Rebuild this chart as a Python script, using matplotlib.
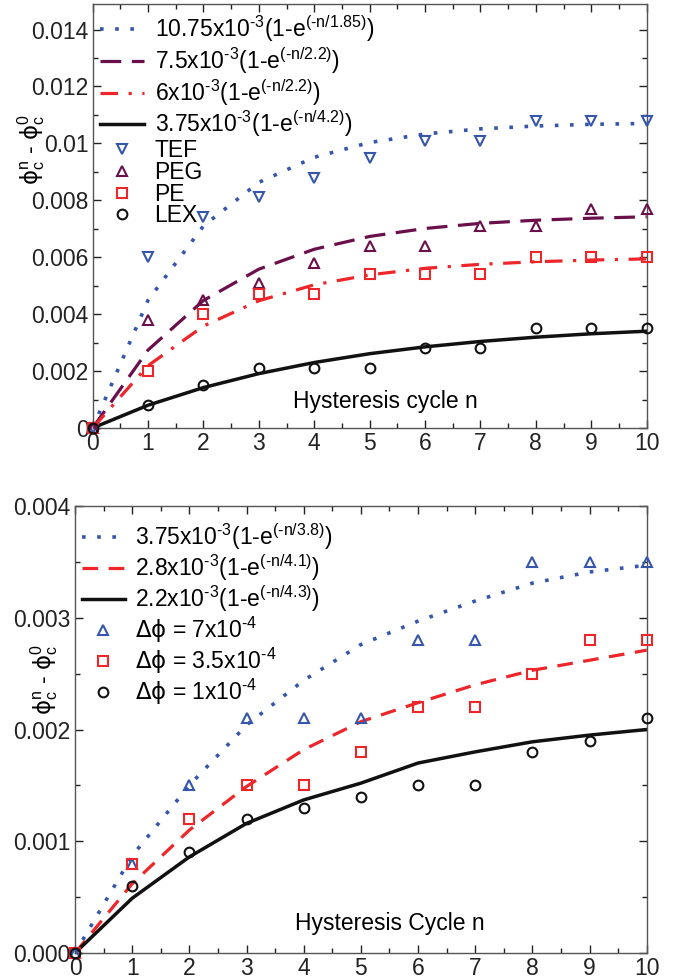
import numpy as np
import matplotlib
matplotlib.use('Agg')
import matplotlib.pyplot as plt
from matplotlib.ticker import MultipleLocator, FixedLocator, FixedFormatter

plt.rcParams['font.family'] = ['Liberation Sans', 'DejaVu Sans']
plt.rcParams['mathtext.fontset'] = 'custom'
plt.rcParams['mathtext.rm'] = 'Liberation Sans'
plt.rcParams['mathtext.it'] = 'Liberation Sans:italic'
plt.rcParams['mathtext.bf'] = 'Liberation Sans:bold'
plt.rcParams['mathtext.sf'] = 'DejaVu Sans'

# hysteresis cycles
cycles = np.arange(0, 11)

# top panel: measured points
tef = [0, 0.0060, 0.0074, 0.0081, 0.0088, 0.0095, 0.0101, 0.0101, 0.0108, 0.0108, 0.0108]
peg = [0, 0.0038, 0.0045, 0.0051, 0.0058, 0.0064, 0.0064, 0.0071, 0.0071, 0.0077, 0.0077]
pe = [0, 0.0020, 0.0040, 0.0047, 0.0047, 0.0054, 0.0054, 0.0054, 0.0060, 0.0060, 0.0060]
lex = [0, 0.0008, 0.0015, 0.0021, 0.0021, 0.0021, 0.0028, 0.0028, 0.0035, 0.0035, 0.0035]

# top panel: fitted curves (x1e-3)
tef_fit = [0, 4.49, 7.10, 8.63, 9.51, 10.03, 10.33, 10.51, 10.61, 10.67, 10.70]
peg_fit = [0, 2.74, 4.48, 5.58, 6.28, 6.73, 7.01, 7.19, 7.30, 7.37, 7.42]
pe_fit = [0, 2.19, 3.58, 4.47, 5.03, 5.38, 5.61, 5.75, 5.84, 5.90, 5.94]
lex_fit = [0, 0.80, 1.42, 1.91, 2.30, 2.61, 2.85, 3.04, 3.19, 3.31, 3.40]

# bottom panel: measured points
dphi7 = [0, 0.0008, 0.0015, 0.0021, 0.0021, 0.0021, 0.0028, 0.0028, 0.0035, 0.0035, 0.0035]
dphi35 = [0, 0.0008, 0.0012, 0.0015, 0.0015, 0.0018, 0.0022, 0.0022, 0.0025, 0.0028, 0.0028]
dphi1 = [0, 0.0006, 0.0009, 0.0012, 0.0013, 0.0014, 0.0015, 0.0015, 0.0018, 0.0019, 0.0021]

# bottom panel: fitted curves (x1e-3)
dphi7_fit = [0, 0.87, 1.50, 2.04, 2.44, 2.76, 2.97, 3.15, 3.31, 3.41, 3.47]
dphi35_fit = [0, 0.62, 1.10, 1.49, 1.82, 2.07, 2.24, 2.40, 2.53, 2.62, 2.71]
dphi1_fit = [0, 0.49, 0.86, 1.16, 1.37, 1.52, 1.70, 1.80, 1.89, 1.95, 2.00]


def fit_label(amp, tau):
    return amp + r'x10$^{\text{-3}}$(1-e$^{\text{(-n/' + tau + ')}}$)'


top_fit_labels = [fit_label('10.75', '1.85'), fit_label('7.5', '2.2'),
                  fit_label('6', '2.2'), fit_label('3.75', '4.2')]
top_data_labels = ['TEF', 'PEG', 'PE', 'LEX']
bot_fit_labels = [fit_label('3.75', '3.8'), fit_label('2.8', '4.1'),
                  fit_label('2.2', '4.3')]
bot_data_labels = [r'$\mathsf{\Delta\phi}$ = 7x10$^{\text{-4}}$',
                   r'$\mathsf{\Delta\phi}$ = 3.5x10$^{\text{-4}}$',
                   r'$\mathsf{\Delta\phi}$ = 1x10$^{\text{-4}}$']
ylabel = r'$\mathsf{\phi}_{\mathrm{c}}^{\mathrm{n}}$ - $\mathsf{\phi}_{\mathrm{c}}^{\mathrm{0}}$'

top_yticks = [0, 0.002, 0.004, 0.006, 0.008, 0.010, 0.012, 0.014]
top_yticklabels = ['0', '0.002', '0.004', '0.006', '0.008', '0.01', '0.012', '0.014']
bot_yticks = [0, 0.001, 0.002, 0.003, 0.004]
bot_yticklabels = ['0.000', '0.001', '0.002', '0.003', '0.004']

BLUE = '#3556ab'
PURPLE = '#6b0f4b'
RED = '#ee2529'
BLACK = '#111111'
FS = 16.5

DOT = (0, (1, 3.2))
DASH_LONG = (0, (6.5, 3.3))
DASH_DOT = (0, (5.5, 3.3, 1, 3.3))
DASH = (0, (4.9, 3.3))

fig = plt.figure(figsize=(6.82, 9.8), dpi=100)
ax1 = fig.add_axes([0.1359, 0.5633, 0.8123, 0.4327])
ax2 = fig.add_axes([0.1100, 0.02755, 0.8383, 0.4561])


def style_axes(ax):
    for sp in ax.spines.values():
        sp.set_linewidth(1.0)
        sp.set_color('#555555')
    ax.tick_params(which='both', direction='in', top=True, right=True,
                   labelsize=FS, colors='#222222', pad=3)
    ax.tick_params(which='major', length=5.5, width=1.0)
    ax.tick_params(which='minor', length=3.5, width=1.0)
    ax.xaxis.set_major_locator(MultipleLocator(1))
    ax.xaxis.set_minor_locator(MultipleLocator(0.5))
    ax.set_xlim(0, 10)


mk = dict(fillstyle='none', markersize=7, markeredgewidth=1.5, linestyle='none',
          clip_on=False, zorder=4)
leg_kw = dict(loc='upper left', frameon=False, fontsize=FS,
              handletextpad=0.44, borderpad=0.2, borderaxespad=0.1)

# ---- top panel ----
fit_scale = 1e-3
l1, = ax1.plot(cycles, np.array(tef_fit) * fit_scale, color=BLUE, lw=2.6, linestyle=DOT)
l2, = ax1.plot(cycles, np.array(peg_fit) * fit_scale, color=PURPLE, lw=2.3, linestyle=DASH_LONG)
l3, = ax1.plot(cycles, np.array(pe_fit) * fit_scale, color=RED, lw=2.3, linestyle=DASH_DOT)
l4, = ax1.plot(cycles, np.array(lex_fit) * fit_scale, color=BLACK, lw=2.5)
m1, = ax1.plot(cycles, tef, marker='v', color=BLUE, **mk)
m2, = ax1.plot(cycles, peg, marker='^', color=PURPLE, **mk)
m3, = ax1.plot(cycles, pe, marker='s', color=RED, **mk)
m4, = ax1.plot(cycles, lex, marker='o', color=BLACK, **mk)

style_axes(ax1)
ax1.set_ylim(0, 0.0149)
ax1.yaxis.set_major_locator(FixedLocator(top_yticks))
ax1.yaxis.set_major_formatter(FixedFormatter(top_yticklabels))
ax1.yaxis.set_minor_locator(MultipleLocator(0.001))

leg1 = ax1.legend([l1, l2, l3, l4], top_fit_labels, bbox_to_anchor=(0.0, 0.993),
                  labelspacing=0.04, handlelength=1.96, **leg_kw)
ax1.add_artist(leg1)
ax1.legend([m1, m2, m3, m4], top_data_labels, bbox_to_anchor=(0.0, 0.697),
           labelspacing=-0.06, handlelength=1.96, **leg_kw)

fig.text(293 / 682, 1 - 401 / 980, 'Hysteresis cycle n', fontsize=FS,
         ha='left', va='center')
fig.text(31 / 682, 1 - 150 / 980, ylabel, fontsize=FS, rotation=90,
         ha='center', va='center')

# ---- bottom panel ----
b1, = ax2.plot(cycles, np.array(dphi7_fit) * fit_scale, color=BLUE, lw=2.6, linestyle=DOT)
b2, = ax2.plot(cycles, np.array(dphi35_fit) * fit_scale, color=RED, lw=2.3, linestyle=DASH)
b3, = ax2.plot(cycles, np.array(dphi1_fit) * fit_scale, color=BLACK, lw=2.5)
n1, = ax2.plot(cycles, dphi7, marker='^', color=BLUE, **mk)
n2, = ax2.plot(cycles, dphi35, marker='s', color=RED, **mk)
n3, = ax2.plot(cycles, dphi1, marker='o', color=BLACK, **mk)

style_axes(ax2)
ax2.set_ylim(0, 0.004)
ax2.yaxis.set_major_locator(FixedLocator(bot_yticks))
ax2.yaxis.set_major_formatter(FixedFormatter(bot_yticklabels))
ax2.yaxis.set_minor_locator(MultipleLocator(0.0005))

ax2.legend([b1, b2, b3, n1, n2, n3], bot_fit_labels + bot_data_labels,
           bbox_to_anchor=(0.0, 0.982), labelspacing=0.03, handlelength=1.88,
           **leg_kw)

fig.text(295 / 682, 1 - 923 / 980, 'Hysteresis Cycle n', fontsize=FS,
         ha='left', va='center')
fig.text(44 / 682, 1 - 680 / 980, ylabel, fontsize=FS, rotation=90,
         ha='center', va='center')

fig.savefig('out.png', dpi=100)
